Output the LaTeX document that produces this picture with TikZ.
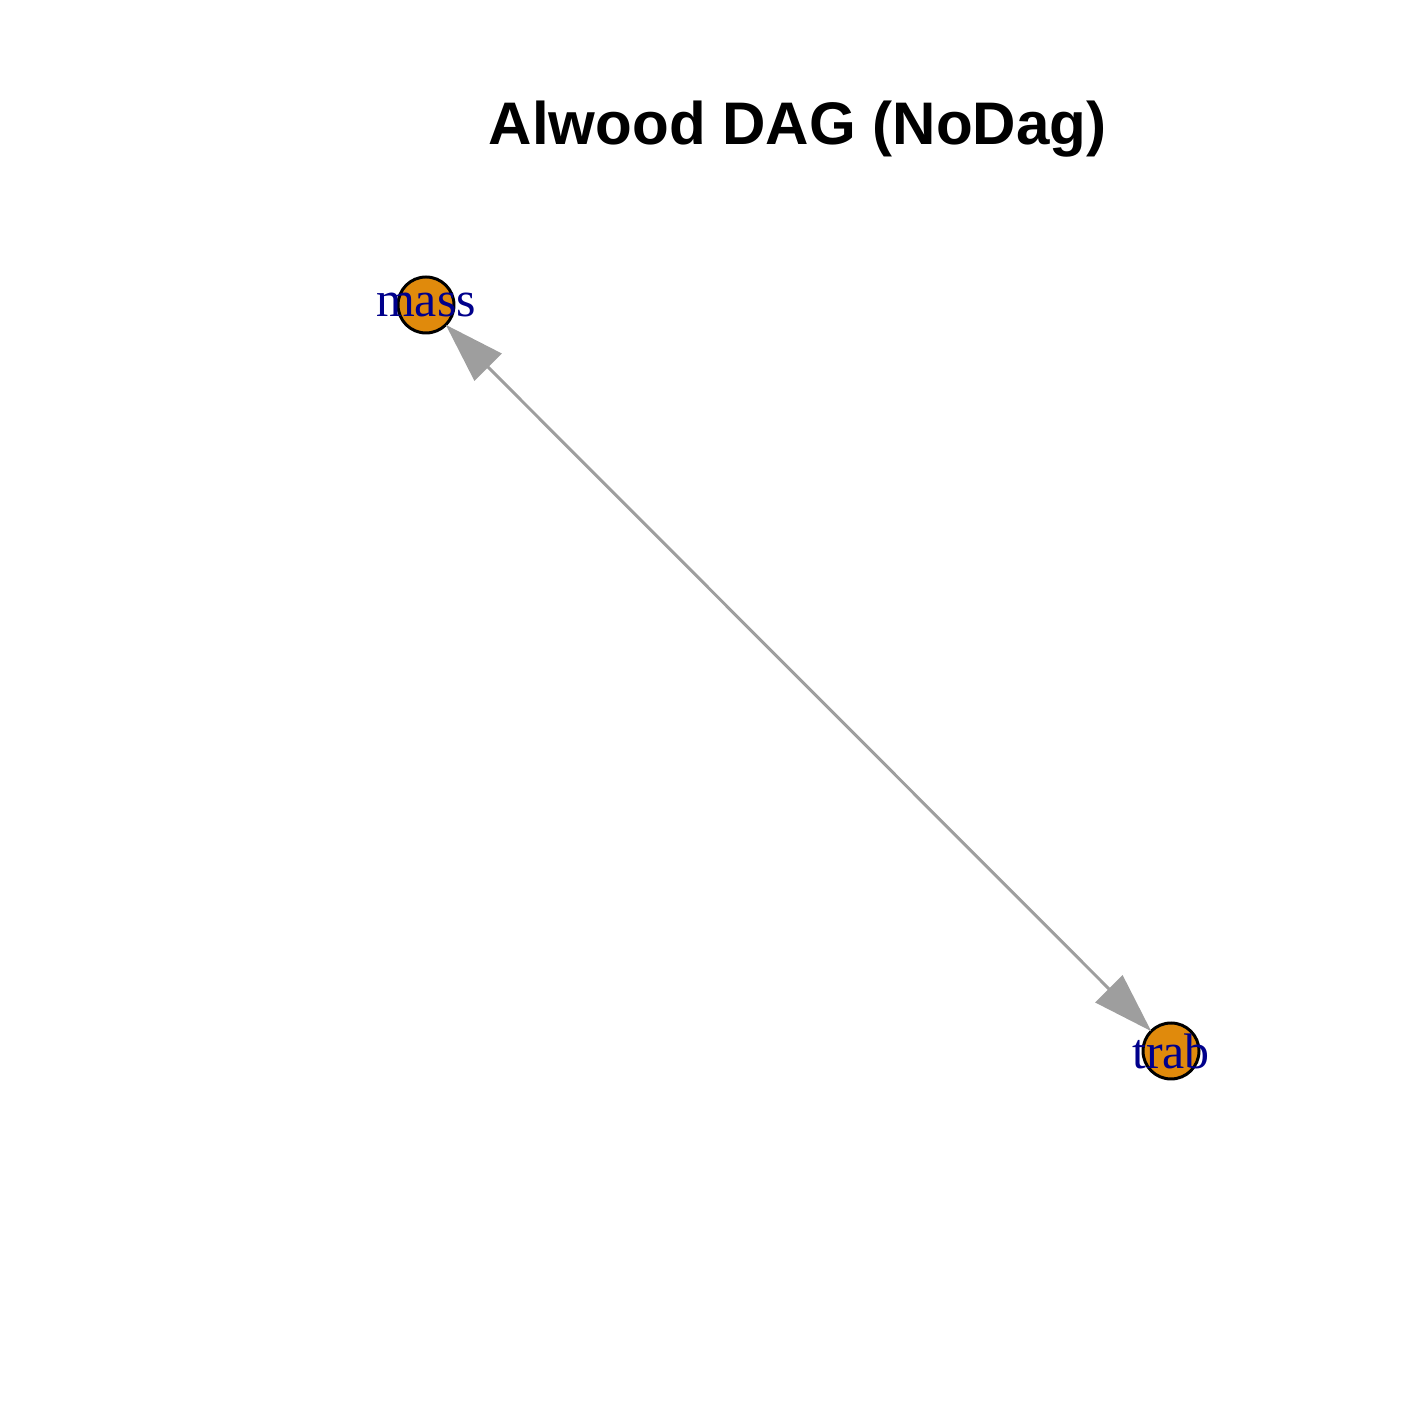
\documentclass[tikz,border=0pt]{standalone}
\usepackage{fontspec}
\setmainfont{Liberation Serif}
\newfontfamily\titlefont{Liberation Sans}
\usepackage{tikz}
\usetikzlibrary{arrows.meta,shapes}
\definecolor{vorange}{RGB}{224,138,12}
\definecolor{egray}{RGB}{158,158,158}
\definecolor{lblue}{RGB}{0,0,139}
\tikzstyle{vx} = [circle, draw=black, line width=0.85pt, fill=vorange,
    minimum size=0.56cm, inner sep=0pt, outer sep=0pt,
    label={[text=lblue, font=\fontsize{14.2}{14.2}\selectfont]center:#1}]

\begin{document}
\begin{tikzpicture}[<->,>={Stealth[length=0.6cm,width=0.38cm,inset=0pt]},
                    line width=0.85pt, draw=egray]
  \useasboundingbox (0,0) rectangle (14.17,14.17);
  \node[text=black, anchor=base, font=\titlefont\bfseries\fontsize{17.1}{17.1}\selectfont]
    (title) at (7.975,12.72) {Alwood DAG (NoDag)};
  \node[vx=mass] (mass) at (4.26,11.12) {};
  \node[vx=trab] (trab) at (11.71,3.66) {};

  \path (mass) edge [draw=egray, fill=egray] (trab);
\end{tikzpicture}
\end{document}
